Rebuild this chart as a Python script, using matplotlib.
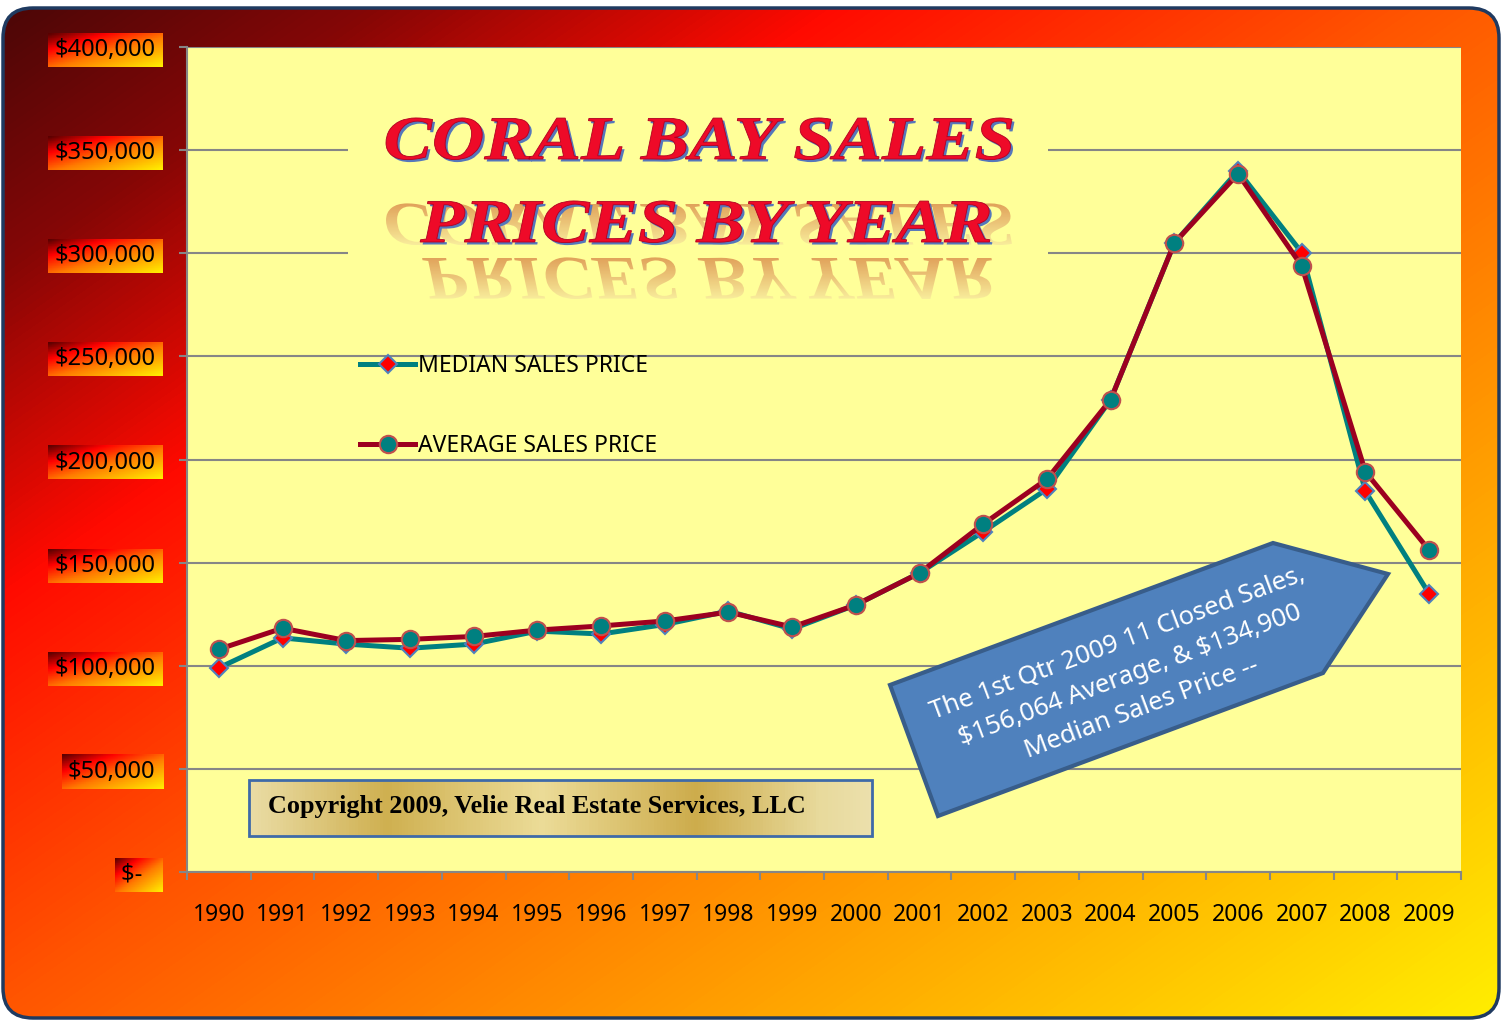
import numpy as np
import matplotlib
matplotlib.use("Agg")
import matplotlib.pyplot as plt
from matplotlib.colors import LinearSegmentedColormap
from matplotlib.patches import FancyBboxPatch, Polygon, Rectangle, PathPatch
from matplotlib.textpath import TextPath
from matplotlib.font_manager import FontProperties
from matplotlib.transforms import Affine2D
from matplotlib.ticker import FuncFormatter

plt.rcParams["font.family"] = ["Noto Sans", "DejaVu Sans"]

# Data
years = ["1990", "1991", "1992", "1993", "1994", "1995", "1996", "1997", "1998", "1999",
         "2000", "2001", "2002", "2003", "2004", "2005", "2006", "2007", "2008", "2009"]
median_price = [99000, 113500, 110500, 108500, 110500, 116800, 115400, 120000, 126500, 117800,
                129500, 145000, 165000, 185700, 229000, 305000, 340000, 300300, 184500, 134900]
average_price = [108000, 118200, 112200, 112800, 114200, 117300, 119300, 121700, 126000, 118800,
                 129500, 145000, 168700, 190500, 229000, 305000, 338500, 293800, 194000, 156064]
y_ticks = [0, 50000, 100000, 150000, 200000, 250000, 300000, 350000, 400000]

series_labels = ["MEDIAN SALES PRICE", "AVERAGE SALES PRICE"]
title_lines = ["CORAL BAY SALES", "PRICES BY YEAR"]
note_text = "The 1st Qtr 2009 11 Closed Sales,\n$156,064 Average, & $134,900\nMedian Sales Price --"
copyright_text = "Copyright 2009, Velie Real Estate Services, LLC"

W, H = 1502, 1021
fig = plt.figure(figsize=(W / 100, H / 100), dpi=100)
fig.patch.set_facecolor("white")


def fx(px):
    return px / W


def fy(py):
    return 1 - py / H


# ----- Background with rounded frame -----
bg = fig.add_axes([0, 0, 1, 1], zorder=-3)
bg.axis("off")
gx, gy = np.meshgrid(np.linspace(0, W, 400), np.linspace(0, H, 300))
t = gx / 880 + gy / 620
bg_cmap = LinearSegmentedColormap.from_list("bg", [
    (0.0, "#4a0707"), (0.45 / 3.5, "#850606"), (1.0 / 3.5, "#ff0a00"),
    (1.7 / 3.5, "#ff5500"), (2.5 / 3.5, "#ff9a00"), (1.0, "#ffee00")])
im = bg.imshow(t, cmap=bg_cmap, vmin=0, vmax=3.35, extent=(0, W, H, 0),
               aspect="auto", interpolation="bilinear")
frame = FancyBboxPatch((3, 8), 1496, 1010, boxstyle="round,pad=0,rounding_size=30",
                       facecolor="none", edgecolor="#1f3a60", lw=2.5, zorder=5)
bg.add_patch(frame)
im.set_clip_path(frame)

# ----- Main chart -----
ax = fig.add_axes([fx(187), fy(872), (1461 - 187) / W, (872 - 47) / H])
ax.set_facecolor("#ffff99")
x = np.arange(len(years))

ax.plot(x, median_price, color="#008080", lw=3.6, marker="D", ms=9, mfc="#ff0000",
        mec="#4f81bd", mew=1.5, label=series_labels[0], zorder=3)
ax.plot(x, average_price, color="#9c0020", lw=3.6, marker="o", ms=12.5, mfc="#008080",
        mec="#c0504d", mew=1.5, label=series_labels[1], zorder=4)

ax.set_xlim(-0.5, len(years) - 0.5)
ax.set_ylim(0, 400000)
ax.set_yticks(y_ticks)
ax.yaxis.set_major_formatter(FuncFormatter(lambda v, p: "$-  " if v == 0 else f"${v:,.0f}"))
ax.set_xticks(np.arange(-0.5, len(years)), labels=[])
ax.set_xticks(x, labels=years, minor=True)
ax.tick_params(axis="x", which="major", direction="out", length=6, width=1.5, color="#868686")
ax.tick_params(axis="x", which="minor", length=0, pad=22, labelsize=16.5)
ax.tick_params(axis="y", direction="out", length=6, width=1.5, color="#868686",
               pad=17, labelsize=17)
ax.yaxis.grid(True, color="#868686", lw=1.5)
ax.set_axisbelow(True)
for s in ("top", "right"):
    ax.spines[s].set_visible(False)
for s in ("left", "bottom"):
    ax.spines[s].set_color("#868686")
    ax.spines[s].set_linewidth(1.5)

ax.legend(loc="upper left", bbox_to_anchor=(fx(360), fy(354)), bbox_transform=fig.transFigure,
          frameon=False, fontsize=16.5, handlelength=2.4, handletextpad=0.15,
          labelspacing=2.45, borderaxespad=0, borderpad=0)

# ----- Overlay for decorations (pixel coords, y down) -----
ov = fig.add_axes([0, 0, 1, 1], zorder=5)
ov.axis("off")

# title box hides gridlines
ov.add_patch(Rectangle((348, 65), 700, 272, facecolor="#ffff99", edgecolor="none", zorder=0.5))

tfont = FontProperties(family="Liberation Serif", weight="bold", style="italic")


def title_path(s, size, cx, base, flip):
    p = TextPath((0, 0), s, size=size, prop=tfont)
    ext = p.get_extents()
    tr = (Affine2D().translate(-(ext.x0 + ext.x1) / 2, 0)
          .scale(1.17, -1 if flip else 1).translate(cx, base))
    return tr.transform_path(p)


refl_cmap = LinearSegmentedColormap.from_list("refl", ["#d98a4a", "#f7e89c"])
for s, cx, base in [(title_lines[0], 699, 204), (title_lines[1], 707, 258)]:
    rp = title_path(s, 62, cx, base, False)
    patch = PathPatch(rp, facecolor="none", edgecolor="none", zorder=1)
    ov.add_patch(patch)
    e = rp.get_extents()
    grad = np.linspace(0, 1, 64)[:, None] * np.ones((1, 4))
    rim = ov.imshow(grad, cmap=refl_cmap, extent=(e.x0, e.x1, e.y1, e.y0), aspect="auto",
                    zorder=2, alpha=0.8)
    rim.set_clip_path(patch)

for s, cx, base in [(title_lines[0], 699, 159), (title_lines[1], 705, 242)]:
    sp = title_path(s, 62, cx + 2.5, base + 2.5, True)
    ov.add_patch(PathPatch(sp, facecolor="#5577bb", edgecolor="none", zorder=3))
    mp = title_path(s, 62, cx, base, True)
    ov.add_patch(PathPatch(mp, facecolor="#ee0a28", edgecolor="#b00020", lw=0.6, zorder=4))

# copyright box
cb = Rectangle((249, 780), 623, 56, facecolor="none", edgecolor="#3f6aa8", lw=2, zorder=4)
ov.add_patch(cb)
gold = LinearSegmentedColormap.from_list("gold", [
    (0.0, "#eadca4"), (0.22, "#cfb050"), (0.47, "#ecdc98"), (0.72, "#cdac4c"),
    (0.92, "#e8da9c"), (1.0, "#ece0ac")])
cim = ov.imshow(np.linspace(0, 1, 200)[None, :], cmap=gold, extent=(249, 872, 836, 780),
                aspect="auto", zorder=3)
cim.set_clip_path(cb)
ov.text(268, 806, copyright_text, family="Liberation Serif", weight="bold", fontsize=18.8,
        va="center", ha="left", color="black", zorder=5)

# callout arrow
arrow = Polygon([(890, 685), (1273, 543), (1388, 574), (1323, 673), (938, 816)], closed=True,
                facecolor="#4f81bd", edgecolor="#385d8a", lw=3, zorder=3)
ov.add_patch(arrow)
ov.text(1130, 676, note_text, color="white", fontsize=18.5, rotation=20.5, rotation_mode="anchor",
        ha="center", va="center", multialignment="center", linespacing=1.5, zorder=5,
        parse_math=False)

ov.set_xlim(0, W)
ov.set_ylim(H, 0)

# ----- Gradient boxes behind y tick labels -----
fig.canvas.draw()
renderer = fig.canvas.get_renderer()
box_cmap = LinearSegmentedColormap.from_list("box", [
    (0.0, "#5a0000"), (0.25, "#ff0000"), (0.55, "#ff7a00"), (1.0, "#ffee00")])
u, v = np.meshgrid(np.linspace(0, 1, 60), np.linspace(0, 1, 20))
for lab in ax.get_yticklabels():
    bb = lab.get_window_extent(renderer)
    yc = H - (bb.y0 + bb.y1) / 2
    bg.imshow((u + v) / 2, cmap=box_cmap, vmin=0, vmax=1,
              extent=(bb.x0 - 6, 163, yc + 17, yc - 17), aspect="auto", zorder=2)

bg.set_xlim(0, W)
bg.set_ylim(H, 0)

fig.savefig("out.png", dpi=100)
